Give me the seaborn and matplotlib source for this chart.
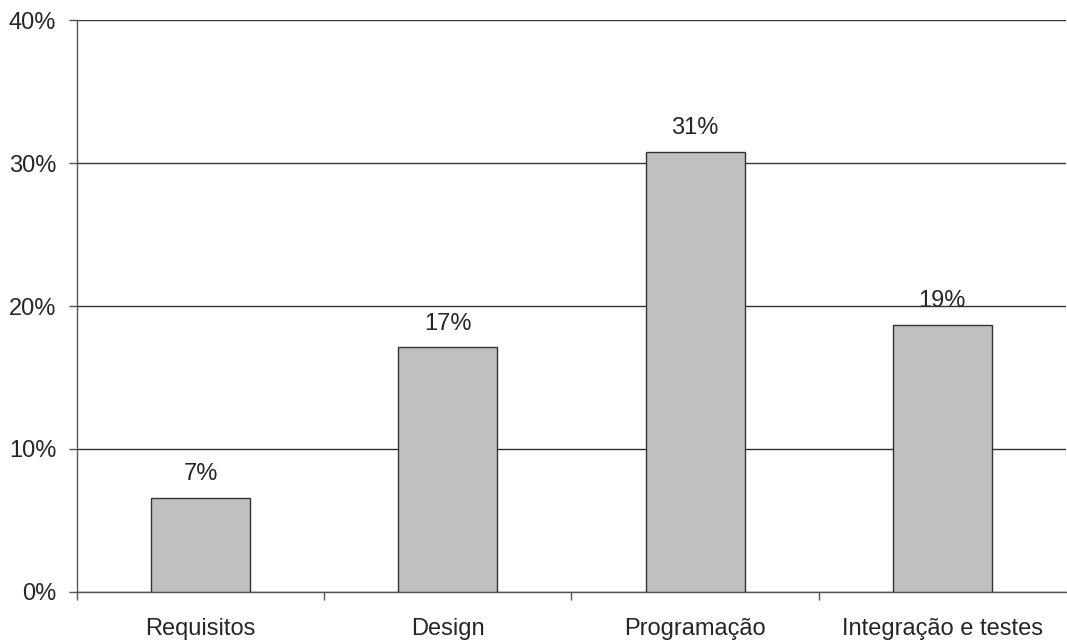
import matplotlib
matplotlib.use('Agg')
import matplotlib.pyplot as plt
import seaborn as sns
import pandas as pd
from matplotlib.ticker import FixedLocator, PercentFormatter

categories = ['Requisitos', 'Design', 'Programação', 'Integração e testes']
values = [6.6, 17.1, 30.8, 18.7]
labels = ['7%', '17%', '31%', '19%']

df = pd.DataFrame({'fase': categories, 'pct': values})

sns.set_style('white')
plt.rcParams['font.family'] = ['Liberation Sans', 'DejaVu Sans']

fig = plt.figure(figsize=(10.67, 6.42), dpi=100)
ax = fig.add_axes([0.0722, 0.0779, 0.9268, 0.8909])

sns.barplot(data=df, x='fase', y='pct', color='#c0c0c0', width=0.4,
            edgecolor='#333333', linewidth=1, saturation=1, ax=ax, zorder=3)

ax.set_ylim(0, 40)
ax.set_xlim(-0.5, 3.5)
ax.set_yticks([0, 10, 20, 30, 40])
ax.yaxis.set_major_formatter(PercentFormatter(decimals=0))
ax.yaxis.grid(True, color='#333333', linewidth=1, zorder=0)
ax.set_axisbelow(True)

for s in ['top', 'right']:
    ax.spines[s].set_visible(False)
for s in ['left', 'bottom']:
    ax.spines[s].set_color('#555555')
    ax.spines[s].set_linewidth(1)

# category boundaries get the small ticks, labels sit centred without ticks
ax.xaxis.set_minor_locator(FixedLocator([-0.5, 0.5, 1.5, 2.5]))
ax.tick_params(axis='x', which='major', bottom=True, length=0, pad=19, labelsize=17)
ax.tick_params(axis='x', which='minor', bottom=True, length=6, width=1, color='#555555', direction='out')
ax.tick_params(axis='y', left=True, length=6, width=1, color='#555555', direction='out', pad=9, labelsize=17)
ax.set_xlabel('')
ax.set_ylabel('')

for i, (v, t) in enumerate(zip(values, labels)):
    ax.annotate(t, (i, v), xytext=(0, 9), textcoords='offset points',
                ha='center', va='bottom', fontsize=17, zorder=5)

fig.savefig('out.png', dpi=100)
